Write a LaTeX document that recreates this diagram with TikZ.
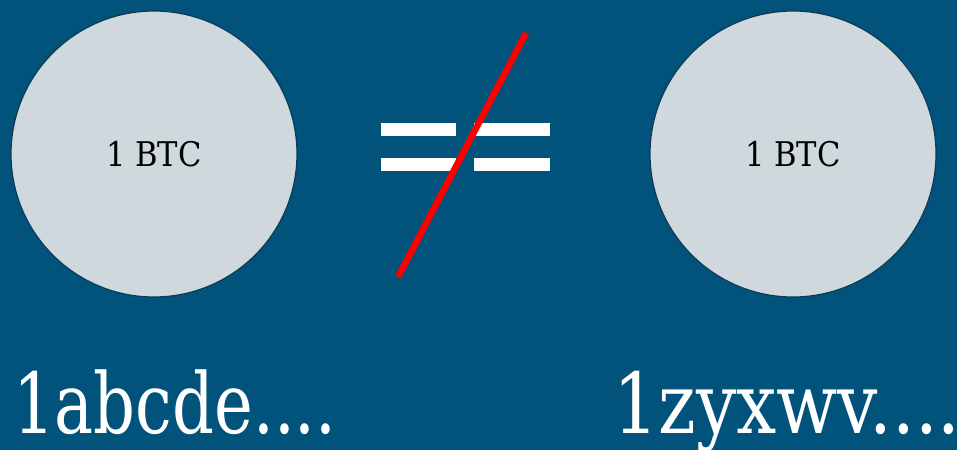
\documentclass[tikz,border=0pt]{standalone}
\usepackage{fontspec}
\setmainfont{DejaVu Serif}
\definecolor{slideblue}{RGB}{1, 83, 124}
\definecolor{coinfill}{RGB}{207, 216, 220}
\definecolor{coinedge}{RGB}{12, 58, 86}
\definecolor{strikered}{RGB}{255, 0, 0}
\usetikzlibrary{positioning}

\tikzset{
  coin/.style={circle, draw=coinedge, line width=1.2pt, fill=coinfill, minimum size=286pt, inner sep=0pt,
    font=\fontsize{34}{36}\selectfont},
  address/.style={anchor=base west, text=white, inner sep=0pt, text depth=0pt,
    font=\fontsize{84}{90}\selectfont},
  bar/.style={fill=white, draw=none}
}

\begin{document}
\begin{tikzpicture}[x=1pt, y=-1pt]
  \fill[slideblue] (0,0) rectangle (957,450);
  \useasboundingbox (0,0) rectangle (957,450);

  % the two coins
  \node[coin] (coinA) at (154,154) {\scalebox{0.9}[1]{1 BTC}};
  \node[coin] (coinB) at (793,154) {\scalebox{0.9}[1]{1 BTC}};

  % crossed out equals sign
  \fill[bar] (381,123) rectangle (456,136);
  \fill[bar] (474,123) rectangle (550,136);
  \fill[bar] (381,158) rectangle (456,171);
  \fill[bar] (474,158) rectangle (550,171);
  \coordinate (strikeLow) at (398,277);
  \coordinate (strikeHigh) at (526,33);
  \draw[strikered, line width=6.5pt] (strikeLow) -- (strikeHigh);

  % addresses
  \node[address, xscale=0.78] (addrA) at (13,433) {1abcde....};
  \node[address, xscale=0.85] (addrB) at (613,433) {1zyxwv....};
\end{tikzpicture}
\end{document}
